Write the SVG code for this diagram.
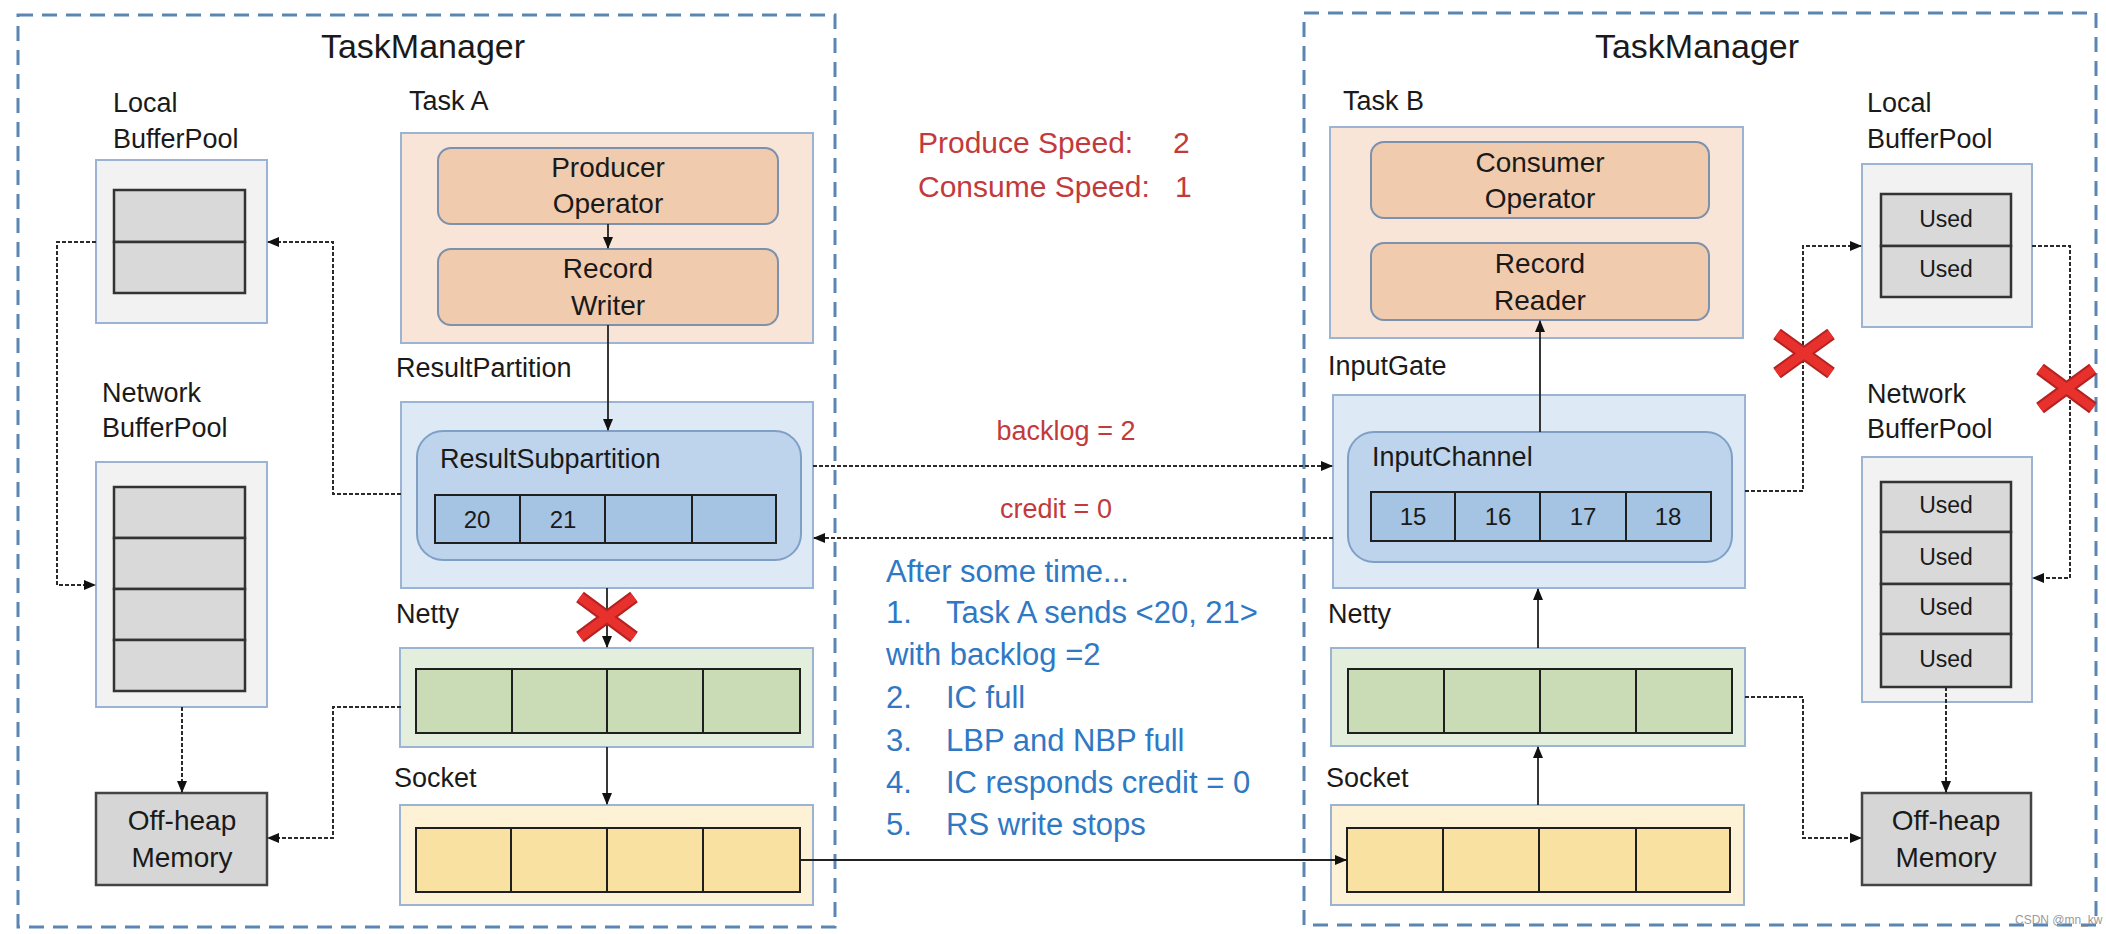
<svg xmlns="http://www.w3.org/2000/svg" width="2106" height="934" viewBox="0 0 2106 934">
<style>
text{font-family:"Liberation Sans",Arial,sans-serif;fill:#1a1a1a}
.tm{font-size:34px;text-anchor:middle}
.lbl{font-size:27px}
.op{font-size:28px;text-anchor:middle}
.num{font-size:24px;text-anchor:middle}
.used{font-size:23px;text-anchor:middle}
.red{fill:#c23a3c}
.blue{fill:#2f78c4;font-size:31px}
.mgr{fill:none;stroke:#5b86b4;stroke-width:3;stroke-dasharray:15 9}
.task{fill:#f8e5d8;stroke:#9db3d3;stroke-width:2}
.opr{fill:#f1cbae;stroke:#7b91ad;stroke-width:2}
.gate{fill:#dde9f5;stroke:#9bb4d4;stroke-width:2}
.chan{fill:#bed4ec;stroke:#7f9fc6;stroke-width:2}
.cellb{fill:#a5c3e2;stroke:#1f1f1f;stroke-width:2}
.netty{fill:#e3efdc;stroke:#9bb4d4;stroke-width:2}
.cellg{fill:#cadcb6;stroke:#1f1f1f;stroke-width:2}
.sock{fill:#fdf1d6;stroke:#9bb4d4;stroke-width:2}
.celly{fill:#f9e1a1;stroke:#1f1f1f;stroke-width:2}
.pool{fill:#f2f2f2;stroke:#9bb4d4;stroke-width:2}
.cellp{fill:#d9d9d9;stroke:#333;stroke-width:2.5}
.heap{fill:#d6d6d6;stroke:#444;stroke-width:2.5}
.sl{fill:none;stroke:#222;stroke-width:1.8;marker-end:url(#ah)}
.dl{fill:none;stroke:#2a2a2a;stroke-width:2;stroke-dasharray:4 2;marker-end:url(#ah)}
.xo{stroke:#b52222;stroke-width:13;stroke-linecap:butt}
.xi{stroke:#e8302c;stroke-width:9;stroke-linecap:butt}
</style>
<defs>
<marker id="ah" markerUnits="userSpaceOnUse" markerWidth="12" markerHeight="12" viewBox="0 0 12 12" refX="11" refY="6" orient="auto">
<path d="M0,1 L12,6 L0,11 Z" fill="#111"/>
</marker>
</defs>
<rect width="2106" height="934" fill="#ffffff"/>

<g id="tm-left">
<rect class="mgr" x="18" y="15" width="817" height="912"/>
<text class="tm" x="423" y="58">TaskManager</text>
</g>
<g id="tm-right">
<rect class="mgr" x="1304" y="13" width="792" height="912"/>
<text class="tm" x="1697" y="58">TaskManager</text>
</g>

<g id="local-bp-left">
<text class="lbl" x="113" y="112">Local</text>
<text class="lbl" x="113" y="148">BufferPool</text>
<rect class="pool" x="96" y="160" width="171" height="163"/>
<rect class="cellp" x="114" y="190" width="131" height="52"/>
<rect class="cellp" x="114" y="242" width="131" height="51"/>
</g>

<g id="network-bp-left">
<text class="lbl" x="102" y="402">Network</text>
<text class="lbl" x="102" y="437">BufferPool</text>
<rect class="pool" x="96" y="462" width="171" height="245"/>
<rect class="cellp" x="114" y="487" width="131" height="51"/>
<rect class="cellp" x="114" y="538" width="131" height="51"/>
<rect class="cellp" x="114" y="589" width="131" height="51"/>
<rect class="cellp" x="114" y="640" width="131" height="51"/>
</g>

<g id="offheap-left">
<rect class="heap" x="96" y="793" width="171" height="92"/>
<text class="op" x="182" y="830">Off-heap</text>
<text class="op" x="182" y="867">Memory</text>
</g>

<g id="task-a">
<text class="lbl" x="409" y="110">Task A</text>
<rect class="task" x="401" y="133" width="412" height="210"/>
<rect class="opr" x="438" y="148" width="340" height="76" rx="13"/>
<text class="op" x="608" y="177">Producer</text>
<text class="op" x="608" y="213">Operator</text>
<rect class="opr" x="438" y="249" width="340" height="76" rx="13"/>
<text class="op" x="608" y="278">Record</text>
<text class="op" x="608" y="315">Writer</text>
</g>

<g id="result-partition">
<text class="lbl" x="396" y="377">ResultPartition</text>
<rect class="gate" x="401" y="402" width="412" height="186"/>
<rect class="chan" x="417" y="431" width="384" height="129" rx="26"/>
<text class="lbl" x="440" y="468">ResultSubpartition</text>
<rect class="cellb" x="435" y="495" width="85" height="48"/>
<rect class="cellb" x="520" y="495" width="85" height="48"/>
<rect class="cellb" x="605" y="495" width="87" height="48"/>
<rect class="cellb" x="692" y="495" width="84" height="48"/>
<text class="num" x="477" y="528">20</text>
<text class="num" x="563" y="528">21</text>
</g>

<g id="netty-left">
<text class="lbl" x="396" y="623">Netty</text>
<rect class="netty" x="400" y="648" width="413" height="99"/>
<rect class="cellg" x="416" y="669" width="96" height="64"/>
<rect class="cellg" x="512" y="669" width="95" height="64"/>
<rect class="cellg" x="607" y="669" width="96" height="64"/>
<rect class="cellg" x="703" y="669" width="97" height="64"/>
</g>

<g id="socket-left">
<text class="lbl" x="394" y="787">Socket</text>
<rect class="sock" x="400" y="805" width="413" height="100"/>
<rect class="celly" x="416" y="828" width="95" height="64"/>
<rect class="celly" x="511" y="828" width="96" height="64"/>
<rect class="celly" x="607" y="828" width="96" height="64"/>
<rect class="celly" x="703" y="828" width="97" height="64"/>
</g>

<g id="task-b">
<text class="lbl" x="1343" y="110">Task B</text>
<rect class="task" x="1330" y="127" width="413" height="211"/>
<rect class="opr" x="1371" y="142" width="338" height="76" rx="13"/>
<text class="op" x="1540" y="172">Consumer</text>
<text class="op" x="1540" y="208">Operator</text>
<rect class="opr" x="1371" y="243" width="338" height="77" rx="13"/>
<text class="op" x="1540" y="273">Record</text>
<text class="op" x="1540" y="310">Reader</text>
</g>

<g id="input-gate">
<text class="lbl" x="1328" y="375">InputGate</text>
<rect class="gate" x="1333" y="395" width="412" height="193"/>
<rect class="chan" x="1348" y="432" width="384" height="130" rx="26"/>
<text class="lbl" x="1372" y="466">InputChannel</text>
<rect class="cellb" x="1371" y="492" width="84" height="49"/>
<rect class="cellb" x="1455" y="492" width="85" height="49"/>
<rect class="cellb" x="1540" y="492" width="86" height="49"/>
<rect class="cellb" x="1626" y="492" width="85" height="49"/>
<text class="num" x="1413" y="525">15</text>
<text class="num" x="1498" y="525">16</text>
<text class="num" x="1583" y="525">17</text>
<text class="num" x="1668" y="525">18</text>
</g>

<g id="netty-right">
<text class="lbl" x="1328" y="623">Netty</text>
<rect class="netty" x="1331" y="648" width="414" height="98"/>
<rect class="cellg" x="1348" y="669" width="96" height="64"/>
<rect class="cellg" x="1444" y="669" width="96" height="64"/>
<rect class="cellg" x="1540" y="669" width="96" height="64"/>
<rect class="cellg" x="1636" y="669" width="96" height="64"/>
</g>

<g id="socket-right">
<text class="lbl" x="1326" y="787">Socket</text>
<rect class="sock" x="1331" y="805" width="413" height="100"/>
<rect class="celly" x="1347" y="828" width="96" height="64"/>
<rect class="celly" x="1443" y="828" width="96" height="64"/>
<rect class="celly" x="1539" y="828" width="97" height="64"/>
<rect class="celly" x="1636" y="828" width="94" height="64"/>
</g>

<g id="local-bp-right">
<text class="lbl" x="1867" y="112">Local</text>
<text class="lbl" x="1867" y="148">BufferPool</text>
<rect class="pool" x="1862" y="164" width="170" height="163"/>
<rect class="cellp" x="1881" y="194" width="130" height="52"/>
<rect class="cellp" x="1881" y="246" width="130" height="51"/>
<text class="used" x="1946" y="227">Used</text>
<text class="used" x="1946" y="277">Used</text>
</g>

<g id="network-bp-right">
<text class="lbl" x="1867" y="403">Network</text>
<text class="lbl" x="1867" y="438">BufferPool</text>
<rect class="pool" x="1862" y="457" width="170" height="245"/>
<rect class="cellp" x="1881" y="482" width="130" height="50"/>
<rect class="cellp" x="1881" y="532" width="130" height="52"/>
<rect class="cellp" x="1881" y="584" width="130" height="50"/>
<rect class="cellp" x="1881" y="634" width="130" height="53"/>
<text class="used" x="1946" y="513">Used</text>
<text class="used" x="1946" y="565">Used</text>
<text class="used" x="1946" y="615">Used</text>
<text class="used" x="1946" y="667">Used</text>
</g>

<g id="offheap-right">
<rect class="heap" x="1862" y="793" width="169" height="92"/>
<text class="op" x="1946" y="830">Off-heap</text>
<text class="op" x="1946" y="867">Memory</text>
</g>

<g id="connectors">
<path class="sl" d="M608,224 V248"/>
<path class="sl" d="M608,325 V430"/>
<path class="sl" d="M607,588 V647"/>
<path class="sl" d="M607,747 V804"/>
<path class="sl" d="M800,860 H1346"/>
<path class="sl" d="M1538,805 V747"/>
<path class="sl" d="M1538,648 V589"/>
<path class="sl" d="M1540,432 V321"/>
<path class="dl" d="M401,494 H333 V242 H268"/>
<path class="dl" d="M96,242 H57 V585 H95"/>
<path class="dl" d="M182,707 V792"/>
<path class="dl" d="M401,707 H333 V838 H268"/>
<path class="dl" d="M813,466 H1332"/>
<path class="dl" d="M1333,538 H814"/>
<path class="dl" d="M1745,491 H1803 V246 H1861"/>
<path class="dl" d="M2032,246 H2070 V578 H2033"/>
<path class="dl" d="M1946,687 V792"/>
<path class="dl" d="M1745,697 H1803 V838 H1861"/>
</g>

<g id="red-x">
<path class="xo" d="M580,597 L634,637 M634,597 L580,637"/>
<path class="xi" d="M580,597 L634,637 M634,597 L580,637"/>
<path class="xo" d="M1777,334 L1831,373 M1831,334 L1777,373"/>
<path class="xi" d="M1777,334 L1831,373 M1831,334 L1777,373"/>
<path class="xo" d="M2040,369 L2093,408 M2093,369 L2040,408"/>
<path class="xi" d="M2040,369 L2093,408 M2093,369 L2040,408"/>
</g>

<g id="notes">
<text class="red" style="font-size:30px" x="918" y="153">Produce Speed:</text>
<text class="red" style="font-size:30px" x="1173" y="153">2</text>
<text class="red" style="font-size:30px" x="918" y="197">Consume Speed:</text>
<text class="red" style="font-size:30px" x="1175" y="197">1</text>
<text class="red" style="font-size:27px;text-anchor:middle" x="1066" y="440">backlog = 2</text>
<text class="red" style="font-size:27px;text-anchor:middle" x="1056" y="518">credit = 0</text>
<text class="blue" x="886" y="582">After some time...</text>
<text class="blue" x="886" y="623">1.</text>
<text class="blue" x="946" y="623">Task A sends &lt;20, 21&gt;</text>
<text class="blue" x="886" y="665">with backlog =2</text>
<text class="blue" x="886" y="708">2.</text>
<text class="blue" x="946" y="708">IC full</text>
<text class="blue" x="886" y="751">3.</text>
<text class="blue" x="946" y="751">LBP and NBP full</text>
<text class="blue" x="886" y="793">4.</text>
<text class="blue" x="946" y="793">IC responds credit = 0</text>
<text class="blue" x="886" y="835">5.</text>
<text class="blue" x="946" y="835">RS write stops</text>
<text style="font-size:12px;fill:#9a9a9a" x="2015" y="924">CSDN @mn_kw</text>
</g>
</svg>
